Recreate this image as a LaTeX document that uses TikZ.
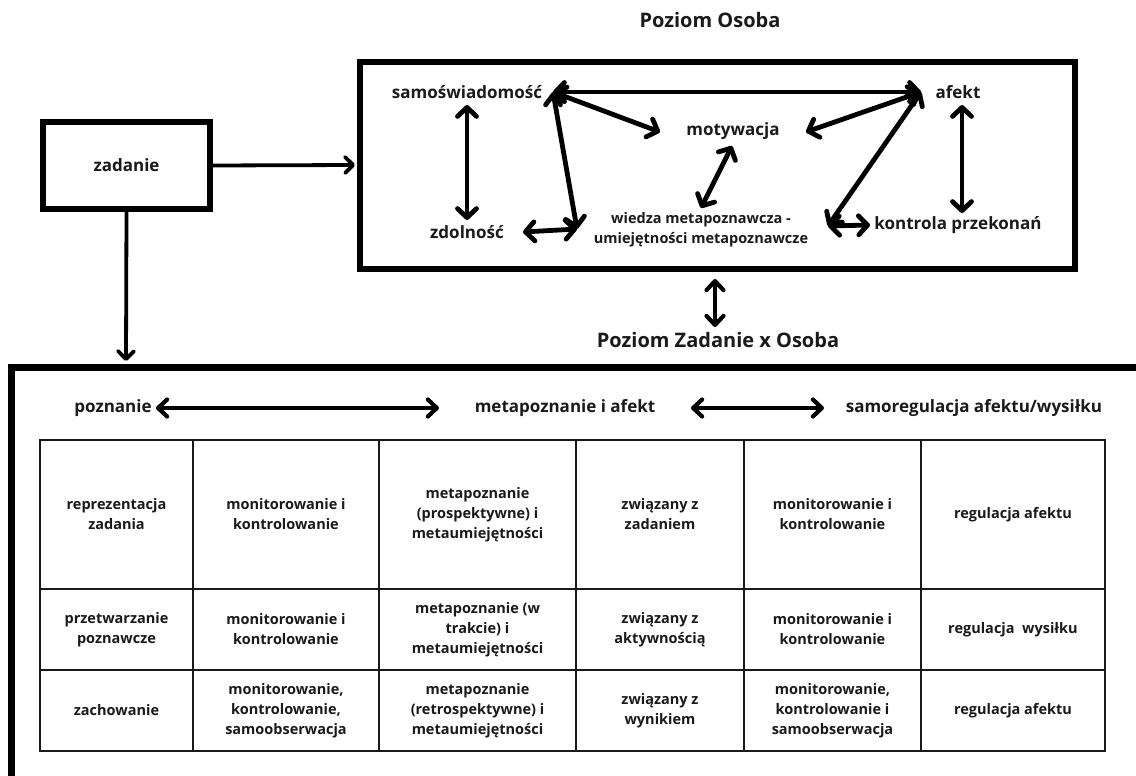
\documentclass[tikz,border=0pt]{standalone}
\usepackage{fontspec}
\setmainfont{Open Sans}
\usetikzlibrary{arrows.meta,calc}
\definecolor{ink}{HTML}{1A1A1A}
\tikzset{
  lbl/.style={font=\fontsize{17}{20}\selectfont\bfseries, inner sep=0pt, text=ink},
  cell/.style={font=\fontsize{14.5}{20}\selectfont\bfseries, align=center, inner sep=0pt, text=ink},
  ttl/.style={font=\fontsize{20}{24}\selectfont\bfseries, inner sep=0pt, text=ink},
  bigarr/.style={line width=4.8pt, draw=black, line cap=round,
    {Straight Barb[length=9pt,width=19pt,round]}-{Straight Barb[length=9pt,width=19pt,round]}},
  midarr/.style={line width=4.2pt, draw=black, line cap=round,
    {Straight Barb[length=9pt,width=17pt,round]}-{Straight Barb[length=9pt,width=17pt,round]}},
  onearr/.style={line width=3.8pt, draw=black,
    -{Straight Barb[length=8pt,width=16pt,round]}},
  grid/.style={line width=2.6pt, draw=black!90},
}
\begin{document}
\begin{tikzpicture}[x=1pt,y=-1pt]
\useasboundingbox (0,0) rectangle (1136,776);
\fill[white] (0,0) rectangle (1136,776);

% titles
\node[ttl] (t1) at (710,20) {Poziom Osoba};
\node[ttl] (t2) at (718,340) {Poziom Zadanie x Osoba};

% zadanie box
\node[draw, line width=5.5pt, minimum width=167pt, minimum height=87pt, inner sep=0pt, font=\fontsize{17}{20}\selectfont\bfseries, text=ink] (zad) at (126.5,165.5) {zadanie};

% top box
\node[draw, line width=6pt, minimum width=715pt, minimum height=207pt, inner sep=0pt] (top) at (717.5,165.5) {};

% bottom big box (clipped by picture edge)
\coordinate (bbtr) at (1150,367);
\coordinate (bbtl) at (11,367);
\coordinate (bbbl) at (11,790);
\draw[line width=7pt] (bbtr) -- (bbtl) -- (bbbl);

% zadanie connectors
\coordinate (zin) at (355,165);
\coordinate (zdown) at (126,361);
\draw[onearr] (zad.east) -- (zin);
\draw[onearr] (zad.south) -- (zdown);

% top-bottom connector
\coordinate (ud1) at (715,279);
\coordinate (ud2) at (715,327);
\draw[midarr] (ud1) -- (ud2);

% top box labels
\node[lbl] (sam) at (467,92) {samoświadomość};
\node[lbl] (afe) at (958,92) {afekt};
\node[lbl] (mot) at (733,131) {motywacja};
\node[lbl] (zdo) at (467,232) {zdolność};
\node[lbl, align=center, font=\fontsize{14.5}{20}\selectfont\bfseries] (wie) at (701,230) {wiedza metapoznawcza -\\umiejętności metapoznawcze};
\node[lbl] (kon) at (958,225) {kontrola przekonań};

% anchor points for top arrows
\coordinate (sc) at (553,92);
\coordinate (ac) at (921,92);
\coordinate (ml) at (660,132);
\coordinate (mr) at (806,132);
\coordinate (mb) at (732,146);
\coordinate (wt) at (701,208);
\coordinate (wl) at (577,229);
\coordinate (wr) at (828,226);
\coordinate (zr) at (523,232);
\coordinate (kl) at (870,225);
\coordinate (st) at (467,105);
\coordinate (sb) at (467,220);
\coordinate (at) at (962,105);
\coordinate (ab) at (962,213);

\draw[bigarr] (st) -- (sb);
\draw[bigarr] (sc) -- (ac);
\draw[bigarr] (sc) -- (ml);
\draw[bigarr] (sc) -- (wl);
\draw[bigarr] (zr) -- (wl);
\draw[bigarr] (mb) -- (wt);
\draw[bigarr] (ac) -- (mr);
\draw[bigarr] (ac) -- (wr);
\draw[bigarr] (wr) -- (kl);
\draw[bigarr] (at) -- (ab);

% bottom header
\node[lbl] (poz) at (113,408) {poznanie};
\node[lbl] (met) at (565,408) {metapoznanie i afekt};
\node[lbl] (sar) at (974,408) {samoregulacja afektu/wysiłku};
\coordinate (h1) at (156,408);
\coordinate (h2) at (439,408);
\coordinate (h3) at (691,408);
\coordinate (h4) at (824,408);
\draw[midarr] (h1) -- (h2);
\draw[midarr] (h3) -- (h4);

% table grid
\draw[grid] (40,440) rectangle (1105,751);
\foreach \yy in {589,670} \draw[grid] (40,\yy) -- (1105,\yy);
\foreach \xx in {193,379,576,744,921} \draw[grid] (\xx,440) -- (\xx,751);

% row 1
\node[cell] (c11) at (116.5,514.5) {reprezentacja\\zadania};
\node[cell] (c12) at (286,514.5) {monitorowanie i\\kontrolowanie};
\node[cell] (c13) at (477.5,514.5) {metapoznanie\\(prospektywne) i\\metaumiejętności};
\node[cell] (c14) at (660,514.5) {związany z\\zadaniem};
\node[cell] (c15) at (832.5,514.5) {monitorowanie i\\kontrolowanie};
\node[cell] (c16) at (1013,514.5) {regulacja afektu};
% row 2
\node[cell] (c21) at (116.5,629.5) {przetwarzanie\\poznawcze};
\node[cell] (c22) at (286,629.5) {monitorowanie i\\kontrolowanie};
\node[cell] (c23) at (477.5,629.5) {metapoznanie (w\\trakcie) i\\metaumiejętności};
\node[cell] (c24) at (660,629.5) {związany z\\aktywnością};
\node[cell] (c25) at (832.5,629.5) {monitorowanie i\\kontrolowanie};
\node[cell] (c26) at (1013,629.5) {regulacja\ \ wysiłku};
% row 3
\node[cell] (c31) at (116.5,710.5) {zachowanie};
\node[cell] (c32) at (286,710.5) {monitorowanie,\\kontrolowanie,\\samoobserwacja};
\node[cell] (c33) at (477.5,710.5) {metapoznanie\\(retrospektywne) i\\metaumiejętności};
\node[cell] (c34) at (660,710.5) {związany z\\wynikiem};
\node[cell] (c35) at (832.5,710.5) {monitorowanie,\\kontrolowanie i\\samoobserwacja};
\node[cell] (c36) at (1013,710.5) {regulacja afektu};
\end{tikzpicture}
\end{document}
